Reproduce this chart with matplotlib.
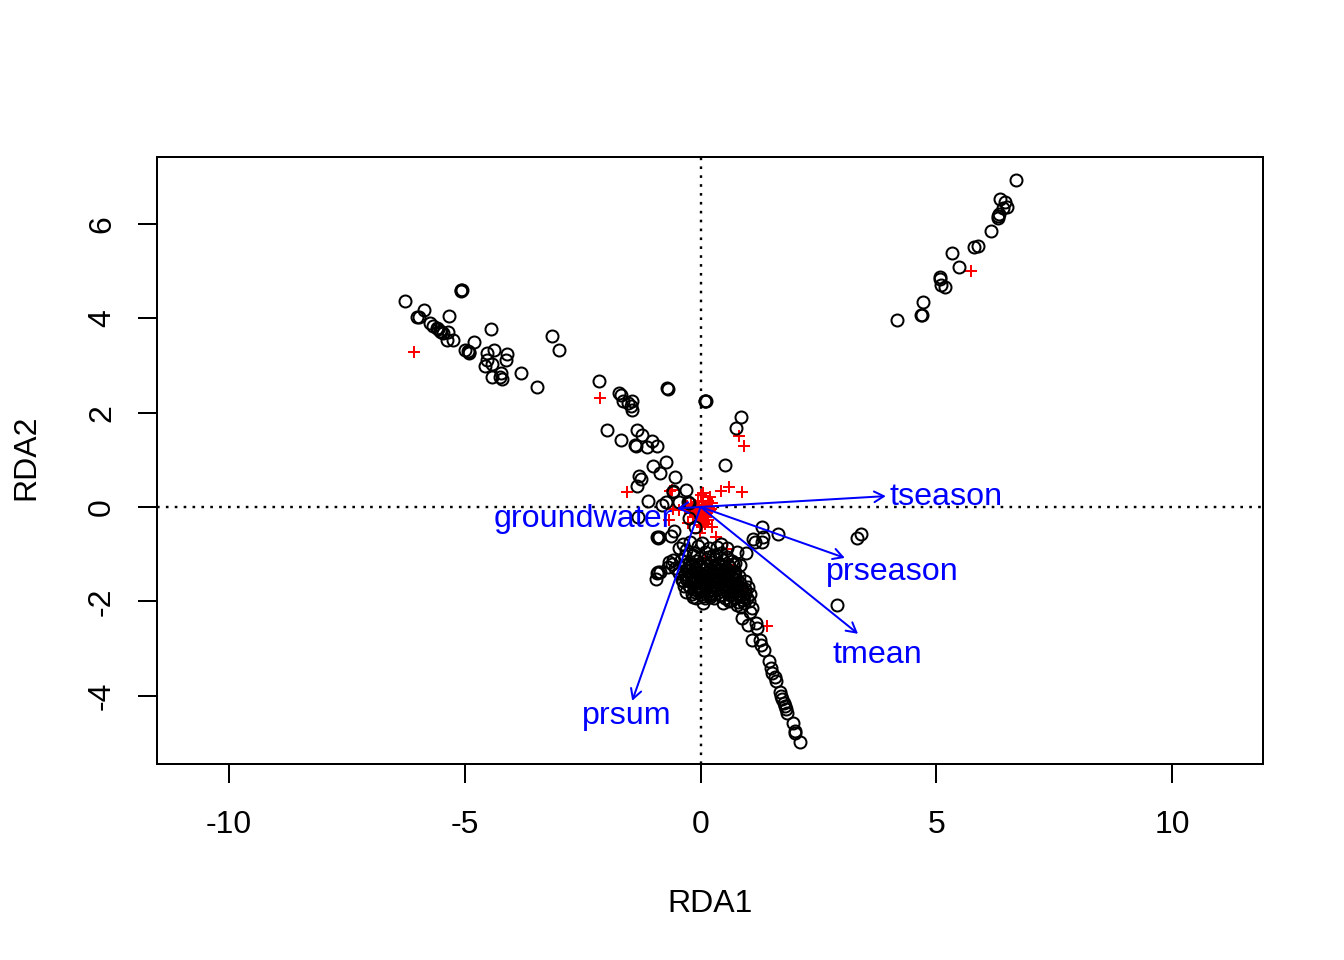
import matplotlib
matplotlib.use('Agg')
from matplotlib import pyplot as plt

plt.rcParams['font.family'] = ['Liberation Sans', 'DejaVu Sans']

# site scores
site_upper_x = [6.69, 6.35, 6.46, 6.50, 6.42, 6.32, 6.30, 6.30, 6.17, 5.89, 5.81, 5.34, 5.49, 5.08, 5.08, 5.10, 5.18, 4.72, 4.68, 4.70, 4.17]
site_upper_y = [6.93, 6.53, 6.47, 6.36, 6.34, 6.21, 6.17, 6.13, 5.85, 5.53, 5.51, 5.39, 5.09, 4.88, 4.84, 4.71, 4.67, 4.34, 4.07, 4.07, 3.96]

site_left_x = [-6.28, -5.87, -5.98, -6.01, -5.33, -5.74, -5.67, -5.60, -5.56, -5.53, -5.50, -5.46, -5.35, -5.37, -5.26,
               -5.09, -5.07, -5.08, -4.80, -4.45, -4.99, -4.94, -4.91, -4.92, -4.39, -4.54, -4.53, -4.43, -4.58, -4.10,
               -4.13, -4.42, -4.24, -4.25, -4.21, -3.81, -3.47, -3.16, -3.00, -2.15, -1.74, -1.69, -1.65, -1.46, -1.53,
               -1.48, -1.45, -1.98, -1.68, -1.34, -1.25, -1.39, -1.37, -1.14, -1.03, -0.92, -0.73, -1.01, -0.85, -1.30,
               -1.27, -1.35, -0.54, -0.71, -0.70, 0.10, 0.09, 0.11, 0.86, 0.75, 0.51]
site_left_y = [4.36, 4.18, 4.03, 4.03, 4.05, 3.89, 3.84, 3.79, 3.77, 3.74, 3.71, 3.69, 3.72, 3.54, 3.53,
               4.60, 4.60, 4.58, 3.50, 3.78, 3.33, 3.31, 3.27, 3.29, 3.33, 3.26, 3.12, 3.03, 2.98, 3.24,
               3.12, 2.76, 2.85, 2.76, 2.71, 2.84, 2.55, 3.62, 3.33, 2.68, 2.42, 2.37, 2.25, 2.24, 2.20,
               2.13, 2.06, 1.63, 1.42, 1.63, 1.53, 1.31, 1.30, 1.28, 1.40, 1.29, 0.95, 0.87, 0.71, 0.66,
               0.59, 0.45, 0.63, 2.52, 2.51, 2.25, 2.24, 2.25, 1.91, 1.67, 0.88]

site_mid_x = [-0.59, -0.58, -0.30, -1.11, -0.73, -0.82, -0.46, -0.26, -0.25, -1.32, -0.24, -0.12, -0.56, -0.63, -0.92,
              -0.90, -0.88, 1.30, 1.65, 1.12, 1.16, 1.32, 1.30, 0.43, 0.56, 0.78, 0.97, 0.66, 2.89, 3.32, 3.40,
              -0.93, -0.90, -0.86, -0.95, -0.68, -0.58, -0.70, -0.61, -0.54, -0.31, -0.12, -0.15, 0.06, 0.20, 0.48, 0.63,
              -0.46, -0.38, -0.30, -0.22, -0.14, -0.06, 0.02, 0.10, 0.18, 0.26, 0.34,
              -0.42, -0.33, -0.25, -0.17, -0.09, -0.01, 0.07, 0.15, 0.23, 0.31, 0.39, 0.47,
              -0.28, -0.20, -0.12, -0.04, 0.04, 0.12, 0.20, 0.28, 0.36, 0.44, 0.52, 0.60, 0.68,
              -0.30, -0.21, -0.11, -0.02, 0.06, 0.16, 0.25, 0.33, 0.43, 0.51, 0.61, 0.70, 0.78,
              -0.25, -0.14, -0.03, 0.09, 0.18, 0.30, 0.38, 0.48, 0.58, 0.66, 0.76, 0.84,
              -0.18, -0.05, 0.05, 0.22, 0.34, 0.45, 0.55, 0.68, 0.78, 0.87, 0.94,
              0.60, 0.72, 0.80, 0.84, 0.90, 0.95, 0.99, 0.78, 0.86, 0.92, 1.02]
site_mid_y = [0.33, 0.32, 0.36, 0.12, 0.10, 0.05, 0.10, 0.10, 0.09, -0.21, -0.24, -0.43, -0.50, -0.61, -0.64,
              -0.65, -0.63, -0.42, -0.57, -0.68, -0.74, -0.64, -0.74, -0.78, -0.88, -0.95, -0.98, -1.14, -2.08, -0.66, -0.57,
              -1.41, -1.38, -1.38, -1.53, -1.16, -1.12, -1.28, -1.21, -1.30, -1.80, -1.80, -1.90, -2.04, -1.90, -2.04, -1.97,
              -0.86, -0.78, -0.92, -0.74, -0.98, -0.82, -0.76, -0.96, -0.88, -1.02, -0.84,
              -1.12, -1.05, -1.18, -1.02, -1.14, -1.08, -1.20, -1.06, -1.16, -1.10, -1.22, -1.12,
              -1.34, -1.26, -1.38, -1.28, -1.42, -1.32, -1.44, -1.30, -1.40, -1.34, -1.46, -1.28, -1.38,
              -1.52, -1.46, -1.56, -1.48, -1.60, -1.50, -1.58, -1.46, -1.56, -1.50, -1.60, -1.44, -1.54,
              -1.68, -1.62, -1.72, -1.64, -1.76, -1.66, -1.60, -1.74, -1.66, -1.70, -1.62, -1.72,
              -1.84, -1.78, -1.88, -1.82, -1.76, -1.86, -1.80, -1.76, -1.84, -1.78, -1.74,
              -2.00, -1.92, -2.02, -1.88, -1.98, -1.84, -1.92, -2.08, -2.12, -2.04, -2.00]

# the dense part below the origin
site_blob_x = [-0.36, -0.27, -0.19, -0.11, -0.03, 0.05, 0.13, 0.21, 0.29, 0.37, 0.45, 0.53, 0.61, 0.69,
               -0.33, -0.24, -0.16, -0.07, 0.01, 0.09, 0.17, 0.25, 0.33, 0.41, 0.49, 0.57, 0.65, 0.73, 0.81,
               -0.37, -0.26, -0.18, -0.09, -0.01, 0.08, 0.16, 0.24, 0.32, 0.40, 0.49, 0.57, 0.66, 0.74, 0.83,
               -0.22, -0.13, -0.05, 0.03, 0.12, 0.20, 0.28, 0.37, 0.46, 0.54, 0.62, 0.71, 0.79, 0.88,
               -0.10, 0.00, 0.10, 0.19, 0.29, 0.41, 0.52, 0.63, 0.74, 0.82, 0.91,
               -0.45, -0.40, -0.35, 0.32, 0.44, 0.56, 0.72, 0.83, 0.94, 1.00, 1.05]
site_blob_y = [-1.24, -1.29, -1.22, -1.30, -1.24, -1.32, -1.25, -1.33, -1.26, -1.31, -1.24, -1.30, -1.26, -1.22,
               -1.42, -1.36, -1.44, -1.38, -1.46, -1.40, -1.47, -1.37, -1.45, -1.39, -1.47, -1.41, -1.45, -1.37, -1.46,
               -1.58, -1.52, -1.61, -1.54, -1.62, -1.55, -1.63, -1.53, -1.60, -1.54, -1.63, -1.55, -1.60, -1.53, -1.62,
               -1.70, -1.75, -1.68, -1.77, -1.70, -1.78, -1.69, -1.75, -1.68, -1.77, -1.70, -1.76, -1.68, -1.74,
               -1.92, -1.85, -1.94, -1.86, -1.92, -1.87, -1.94, -1.87, -1.92, -1.86, -1.90,
               -1.40, -1.55, -1.68, -1.02, -0.98, -1.06, -1.18, -1.24, -1.58, -1.70, -1.84]

site_tail_x = [1.10, 1.05, 0.87, 1.00, 1.17, 1.19, 1.10, 1.26, 1.28, 1.35, 1.45, 1.49, 1.52, 1.57, 1.61, 1.69, 1.71, 1.73, 1.76, 1.79, 1.82, 1.84, 1.95, 2.00, 2.01, 2.10]
site_tail_y = [-2.15, -2.22, -2.36, -2.50, -2.47, -2.57, -2.83, -2.82, -2.93, -3.04, -3.27, -3.42, -3.53, -3.61, -3.70, -3.92, -4.01, -4.08, -4.15, -4.22, -4.29, -4.36, -4.59, -4.74, -4.80, -4.98]

# species scores
species_x = [-6.08, -2.13, 5.74, 0.82, 0.92, -1.56, 1.41, 0.88, 0.60, 0.43, -0.65, -0.61, -0.68, -0.58, -0.45, 0.24, 0.33, 0.56,
             -0.01, 0.05, 0.20, 0.00, -0.26, 0.24, 0.15, -0.05, -0.12, -0.20, -0.28, -0.33, 0.12, 0.18, 0.05, -0.04,
             -0.10, -0.16, 0.03, 0.08, 0.14, 0.20, -0.02, -0.08, 0.06, 0.11, 0.16, -0.14, -0.22, 0.02, 0.07, -0.03, 0.01, 0.04,
             -0.18, -0.10, -0.05, 0.09, 0.15, 0.22, -0.15, 0.00, 0.10, 0.96, 0.58, 0.09, 0.13]
species_y = [3.29, 2.31, 5.00, 1.51, 1.29, 0.32, -2.52, 0.32, 0.42, 0.34, 0.34, 0.36, -0.28, -0.04, -0.06, -0.43, -0.63, -0.90,
             -0.55, 0.30, 0.22, 0.26, -0.34, 0.08, 0.12, 0.10, 0.04, 0.06, 0.02, -0.02, 0.02, -0.03, 0.05, 0.02,
             -0.05, -0.09, -0.04, -0.08, -0.12, -0.07, -0.14, -0.18, -0.17, -0.22, -0.28, -0.12, -0.08, -0.24, -0.32, -0.30, -0.38, -0.43,
             -0.02, 0.03, -0.02, 0.00, -0.02, -0.04, -0.22, -0.06, -0.36, -1.76, -1.24, -1.10, -1.64]

# biplot arrows and their labels
arrow_names = ['tseason', 'prseason', 'tmean', 'prsum', 'groundwater']
arrow_x = [3.93, 3.06, 3.34, -1.45, -0.50]
arrow_y = [0.23, -1.08, -2.69, -4.11, -0.03]
label_x = [5.20, 4.07, 3.76, -1.56, -2.49]
label_y = [0.21, -1.37, -3.13, -4.43, -0.25]

x_ticks = [-10, -5, 0, 5, 10]
y_ticks = [-4, -2, 0, 2, 4, 6]

fig = plt.figure(figsize=(7, 5), dpi=192)
ax = fig.add_axes([157 / 1344, 1 - 764 / 960, (1263 - 157) / 1344, (764 - 157) / 960])

ax.axhline(0, color='black', lw=0.9, ls=(0, (1.1, 2.6)), zorder=1)
ax.axvline(0, color='black', lw=0.9, ls=(0, (1.1, 2.6)), zorder=1)

ax.plot(species_x, species_y, '+', color='red', ms=4.6, mew=0.75, zorder=2)

sites_x = site_upper_x + site_left_x + site_mid_x + site_blob_x + site_tail_x
sites_y = site_upper_y + site_left_y + site_mid_y + site_blob_y + site_tail_y
ax.plot(sites_x, sites_y, 'o', mfc='none', mec='black', ms=4.5, mew=0.75, zorder=3)

for i in range(len(arrow_names)):
    ax.annotate('', xy=(arrow_x[i], arrow_y[i]), xytext=(0, 0), zorder=4,
                arrowprops=dict(arrowstyle='->,head_length=0.36,head_width=0.2', color='blue', lw=0.75,
                                shrinkA=0, shrinkB=0, mutation_scale=10))
    ax.text(label_x[i], label_y[i], arrow_names[i], color='blue', fontsize=12.1,
            ha='center', va='center', zorder=5)

ax.set_xlim(-11.53, 11.93)
ax.set_ylim(-5.45, 7.42)
ax.set_xticks(x_ticks)
ax.set_xticklabels([str(v) for v in x_ticks], fontsize=12)
ax.set_yticks(y_ticks)
ax.set_yticklabels([str(v) for v in y_ticks], fontsize=12, rotation=90, va='center')
ax.tick_params(axis='both', length=7.1, width=0.75, direction='out')
ax.tick_params(axis='x', pad=10.1)
ax.tick_params(axis='y', pad=7.9)
for s in ax.spines.values():
    s.set_linewidth(0.75)

ax.set_xlabel('RDA1', fontsize=12, labelpad=18.6)
ax.set_ylabel('RDA2', fontsize=12, labelpad=17.1, y=0.505)

plt.savefig('out.png', dpi=192)
